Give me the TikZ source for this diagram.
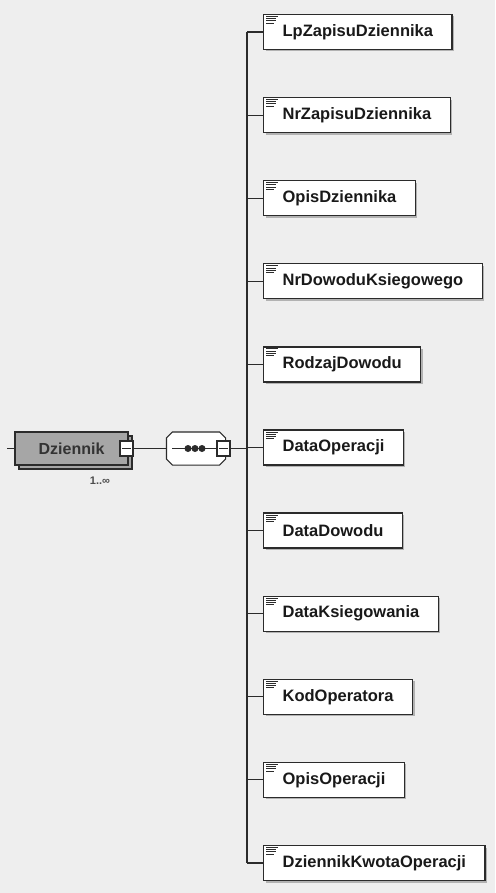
\documentclass[tikz,border=0pt]{standalone}
\usepackage{fontspec}
\setmainfont{Liberation Sans}
\usetikzlibrary{shadows}
\definecolor{bg}{HTML}{EEEEEE}
\definecolor{edge}{HTML}{2B2B2B}
\definecolor{elemgray}{HTML}{A6A6A6}

\tikzset{
  elem/.style={draw=edge, line width=1.3pt, fill=white, anchor=west,
    minimum height=35pt, inner xsep=19pt, inner ysep=0pt,
    font=\fontsize{16.5}{18}\selectfont\bfseries, text=black!90,
    drop shadow={shadow xshift=2pt, shadow yshift=-2pt, fill=black!30, opacity=1},
    path picture={
      \draw[edge, line width=1pt] ([xshift=2.5pt, yshift=-2pt]path picture bounding box.north west) -- ++(12pt,0);
      \draw[edge, line width=1pt] ([xshift=2.5pt, yshift=-4.2pt]path picture bounding box.north west) -- ++(10pt,0);
      \draw[edge, line width=1pt] ([xshift=2.5pt, yshift=-6.4pt]path picture bounding box.north west) -- ++(10pt,0);
      \draw[edge, line width=1pt] ([xshift=2.5pt, yshift=-8.6pt]path picture bounding box.north west) -- ++(8pt,0);
    }},
  minusbox/.style={draw=edge, line width=1.1pt, fill=white, minimum width=13pt,
    minimum height=15pt, inner sep=0pt,
    path picture={\draw[edge, line width=1.1pt] ([xshift=2pt]path picture bounding box.west) -- ([xshift=-2pt]path picture bounding box.east);}},
}

\begin{document}
\begin{tikzpicture}[x=1pt, y=-1pt, line width=1.1pt, draw=edge]
                \fill[bg] (0,0) rectangle (495,893);
                \useasboundingbox (0,0) rectangle (495,893);

                \coordinate (start) at (7,448.5);
                \coordinate (tr) at (247,448.5);
                \coordinate (seqin) at (172,448.5);

                \node[draw=edge, fill=elemgray, line width=1.3pt, minimum width=113pt, minimum height=33pt,
                      copy shadow={shadow xshift=4pt, shadow yshift=-4pt, fill=elemgray, draw=edge, line width=1.3pt},
                      font=\fontsize{16}{18}\selectfont\bfseries, text=black!80] (dz) at (71.5,448.5) {Dziennik};
                \node[minusbox] (dzm) at (126.5,448.5) {};
                \node[font=\fontsize{11}{12}\selectfont\bfseries, text=black!70] (card) at (100,481) {1..∞};

                \node[minimum width=58pt, minimum height=32pt, inner sep=0pt] (seq) at (196,448.5) {};
                \draw[fill=white] ([xshift=6pt]seq.north west) -- ([xshift=-6pt]seq.north east)
                    -- ([yshift=-6pt]seq.north east) -- ([yshift=6pt]seq.south east)
                    -- ([xshift=-6pt]seq.south east) -- ([xshift=6pt]seq.south west)
                    -- ([yshift=6pt]seq.south west) -- ([yshift=-6pt]seq.north west) -- cycle;
                \node[minusbox] (seqm) at (223.5,448.5) {};

                \draw (start) -- (dz.west);
                \draw (dzm.east) -- (seq.west);
                \draw (seqin) -- (seqm.west);
                \fill[edge] (188,448.5) circle (3.5pt);
                \fill[edge] (195,448.5) circle (3.5pt);
                \fill[edge] (202,448.5) circle (3.5pt);
                \draw (seqm.east) -- (tr);

                \node[elem] (lp) at (263,32) {LpZapisuDziennika};
                \node[elem] (nrzap) at (263,115.1) {NrZapisuDziennika};
                \node[elem] (opisdz) at (263,198.2) {OpisDziennika};
                \node[elem] (nrdow) at (263,281.3) {NrDowoduKsiegowego};
                \node[elem] (rodzaj) at (263,364.4) {RodzajDowodu};
                \node[elem] (dataop) at (263,447.5) {DataOperacji};
                \node[elem] (datadow) at (263,530.6) {DataDowodu};
                \node[elem] (dataks) at (263,613.7) {DataKsiegowania};
                \node[elem] (kod) at (263,696.8) {KodOperatora};
                \node[elem] (opisop) at (263,779.9) {OpisOperacji};
                \node[elem] (kwota) at (263,863) {DziennikKwotaOperacji};

                \draw (lp.west -| tr) -- (kwota.west -| tr);
                \draw (lp.west -| tr) -- (lp.west);
                \draw (nrzap.west -| tr) -- (nrzap.west);
                \draw (opisdz.west -| tr) -- (opisdz.west);
                \draw (nrdow.west -| tr) -- (nrdow.west);
                \draw (rodzaj.west -| tr) -- (rodzaj.west);
                \draw (dataop.west -| tr) -- (dataop.west);
                \draw (datadow.west -| tr) -- (datadow.west);
                \draw (dataks.west -| tr) -- (dataks.west);
                \draw (kod.west -| tr) -- (kod.west);
                \draw (opisop.west -| tr) -- (opisop.west);
                \draw (kwota.west -| tr) -- (kwota.west);
            \end{tikzpicture}
\end{document}
